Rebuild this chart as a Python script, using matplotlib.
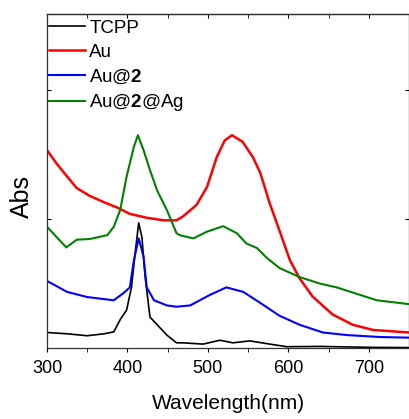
import matplotlib
matplotlib.use("Agg")
from matplotlib import pyplot as plt

plt.rcParams['font.family'] = ['Liberation Sans', 'DejaVu Sans']
plt.rcParams['mathtext.fontset'] = 'custom'
plt.rcParams['mathtext.rm'] = 'Liberation Sans'
plt.rcParams['mathtext.bf'] = 'Liberation Sans:bold'

# 数据 (读自原图, 纵坐标为任意单位)
tcpp_x = [300, 325, 350, 371, 383, 391, 399, 405, 410, 414, 418, 422, 428, 437, 449, 461,
          469, 494, 515, 531, 552, 577, 598, 640, 700, 750]
tcpp_y = [0.12, 0.11, 0.095, 0.11, 0.125, 0.22, 0.295, 0.47, 0.76, 0.97, 0.86, 0.55, 0.24, 0.18, 0.10, 0.04,
          0.04, 0.03, 0.06, 0.04, 0.055, 0.03, 0.01, 0.012, 0.005, 0.003]

au_x = [300, 312, 325, 337, 353, 371, 387, 403, 424, 445, 461, 469, 486, 499, 511, 521, 530,
        543, 556, 565, 577, 589, 602, 614, 630, 655, 680, 705, 750]
au_y = [1.535, 1.43, 1.33, 1.24, 1.18, 1.13, 1.09, 1.04, 1.01, 0.99, 0.99, 1.02, 1.11, 1.25, 1.48, 1.61, 1.65,
        1.60, 1.48, 1.36, 1.12, 0.91, 0.68, 0.54, 0.40, 0.26, 0.18, 0.14, 0.12]

au2_x = [300, 325, 350, 383, 395, 403, 408, 414, 420, 424, 433, 449, 461, 478, 502, 523, 544,
         565, 589, 614, 643, 673, 714, 750]
au2_y = [0.52, 0.435, 0.395, 0.37, 0.425, 0.47, 0.68, 0.85, 0.71, 0.47, 0.37, 0.33, 0.32, 0.33, 0.41, 0.47, 0.435,
         0.35, 0.25, 0.18, 0.12, 0.10, 0.085, 0.08]

au2ag_x = [300, 312, 324, 337, 353, 375, 383, 391, 399, 408, 413, 420, 428, 437, 449, 461, 465,
           482, 498, 519, 536, 548, 561, 573, 589, 614, 639, 660, 680, 710, 750]
au2ag_y = [0.94, 0.86, 0.78, 0.84, 0.845, 0.875, 0.94, 1.07, 1.33, 1.56, 1.65, 1.535, 1.38, 1.22, 1.07, 0.89, 0.875,
           0.85, 0.90, 0.945, 0.89, 0.81, 0.775, 0.70, 0.62, 0.55, 0.50, 0.47, 0.43, 0.37, 0.34]

labels = ['TCPP', 'Au', r'Au@$\mathbf{2}$', r'Au@$\mathbf{2}$@Ag']

fig = plt.figure(figsize=(4.1, 4.19), dpi=100)
ax = fig.add_axes([0.1146, 0.1695, 0.883, 0.797])

ax.plot(tcpp_x, tcpp_y, color='black', lw=1.2, label=labels[0])
ax.plot(au_x, au_y, color='red', lw=1.8, label=labels[1])
ax.plot(au2_x, au2_y, color='blue', lw=1.5, label=labels[2])
ax.plot(au2ag_x, au2ag_y, color='green', lw=1.5, label=labels[3])

ax.set_xlim(300, 750)
ax.set_ylim(0, 2.59)
ax.set_xticks([300, 400, 500, 600, 700])
ax.set_xticks([350, 450, 550, 650, 750], minor=True)
ax.set_yticks([1, 2])
ax.set_yticklabels([])
ax.tick_params(axis='x', which='both', direction='out', length=3, pad=6, labelsize=13)
ax.tick_params(axis='y', which='both', direction='in', length=3, right=True)
for s in ax.spines.values():
    s.set_linewidth(0.9)
    s.set_color('#333333')

# 顶部刻度朝内
top = ax.secondary_xaxis('top')
top.set_xticks([300, 400, 500, 600, 700])
top.set_xticks([350, 450, 550, 650, 750], minor=True)
top.tick_params(axis='x', which='both', direction='in', length=3, labeltop=False)
top.spines['top'].set_linewidth(0.9)
top.spines['top'].set_color('#333333')

ax.set_xlabel('Wavelength(nm)', fontsize=15, labelpad=12)
ax.set_ylabel('Abs', fontsize=18)
ax.yaxis.set_label_coords(-0.035, 0.455)

leg = ax.legend(loc='upper left', bbox_to_anchor=(0.0, 0.988), frameon=False,
                fontsize=13.5, handlelength=1.95, handletextpad=0.2,
                labelspacing=0.35, borderaxespad=0.0, borderpad=0.1)

fig.savefig('out.png', dpi=100)
